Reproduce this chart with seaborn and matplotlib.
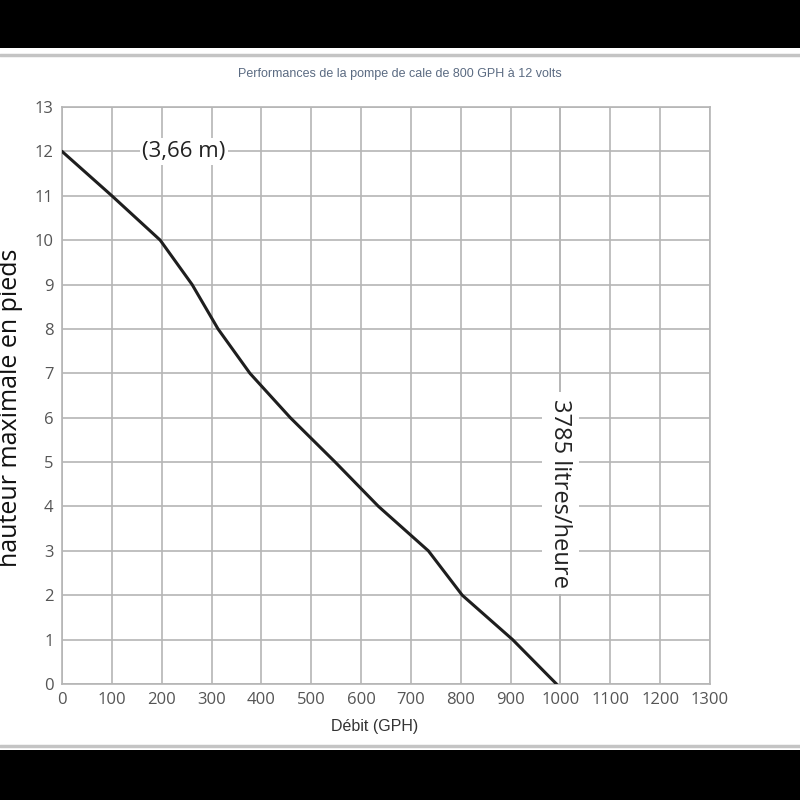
import matplotlib
matplotlib.use("Agg")
import matplotlib.pyplot as plt
from matplotlib.patches import Rectangle
from matplotlib.lines import Line2D
import numpy as np
import pandas as pd
import seaborn as sns

# pump curve
debit_gph = [0, 100, 197, 261, 313, 377, 458, 548, 635, 735, 803, 904, 992]
hauteur_pieds = [12, 11, 10, 9, 8, 7, 6, 5, 4, 3, 2, 1, 0]

x_ticks = list(range(0, 1400, 100))
y_ticks = list(range(0, 14))

df = pd.DataFrame({"debit": debit_gph, "hauteur": hauteur_pieds})

sns.set_style("white")
plt.rcParams['font.family'] = ['Open Sans', 'DejaVu Sans']

fig = plt.figure(figsize=(8, 8), dpi=100, facecolor="black")
# white page between the black bands, with thin grey rules
fig.patches.append(Rectangle((0, 50 / 800), 1, 702 / 800, transform=fig.transFigure,
                             facecolor="white", edgecolor="none", zorder=-1))
for yy in (1 - 55 / 800, 1 - 745.5 / 800):
    fig.lines.append(Line2D([0, 1], [yy, yy], transform=fig.transFigure,
                            color="#c4c4c4", lw=2.5, zorder=-0.5))

ax = fig.add_axes([62 / 800, 1 - 684 / 800, 648 / 800, 577 / 800])
ax.set_zorder(2)
ax.set_facecolor("white")

sns.lineplot(data=df, x="debit", y="hauteur", color="#1e1e1e", lw=2.2, ax=ax, zorder=3)

ax.set_xlim(0, 1300)
ax.set_ylim(0, 13)
ax.set_xticks(x_ticks)
ax.set_yticks(y_ticks)
ax.grid(True, color="#b5b5b5", lw=1.2)
for s in ax.spines.values():
    s.set_color("#b5b5b5")
    s.set_linewidth(1.2)
ax.tick_params(length=0, labelsize=12, labelcolor="#555555", pad=6)
ax.set_xlabel("")
ax.set_ylabel("")

# annotations
ax.text(245, 12, "(3,66 m)", fontsize=16, color="#222222", ha="center", va="center",
        bbox=dict(facecolor="white", edgecolor="none", pad=2), zorder=4)
ax.axvline(1000, ymin=0, ymax=1, color="#b5b5b5", lw=1.2, zorder=1)
ax.text(1000, 4.3, "3785 litres/heure", fontsize=17, color="#222222", rotation=-90,
        ha="center", va="center", bbox=dict(facecolor="white", edgecolor="none", pad=5), zorder=4)

fig.text(400 / 800, 1 - 74 / 800, "Performances de la pompe de cale de 800 GPH à 12 volts",
         ha="center", va="center", fontsize=9, color="#5b6b82", family=["Liberation Sans", "DejaVu Sans"])
fig.text(375 / 800, 1 - 726 / 800, "Débit (GPH)", ha="center", va="center", fontsize=11.5,
         color="#333333", family=["Liberation Sans", "DejaVu Sans"])
fig.text(11 / 800, 1 - 408 / 800, "hauteur maximale en pieds", rotation=90, ha="center",
         va="center", fontsize=18, color="#111111")

fig.savefig("out.png", dpi=100, facecolor="black")
